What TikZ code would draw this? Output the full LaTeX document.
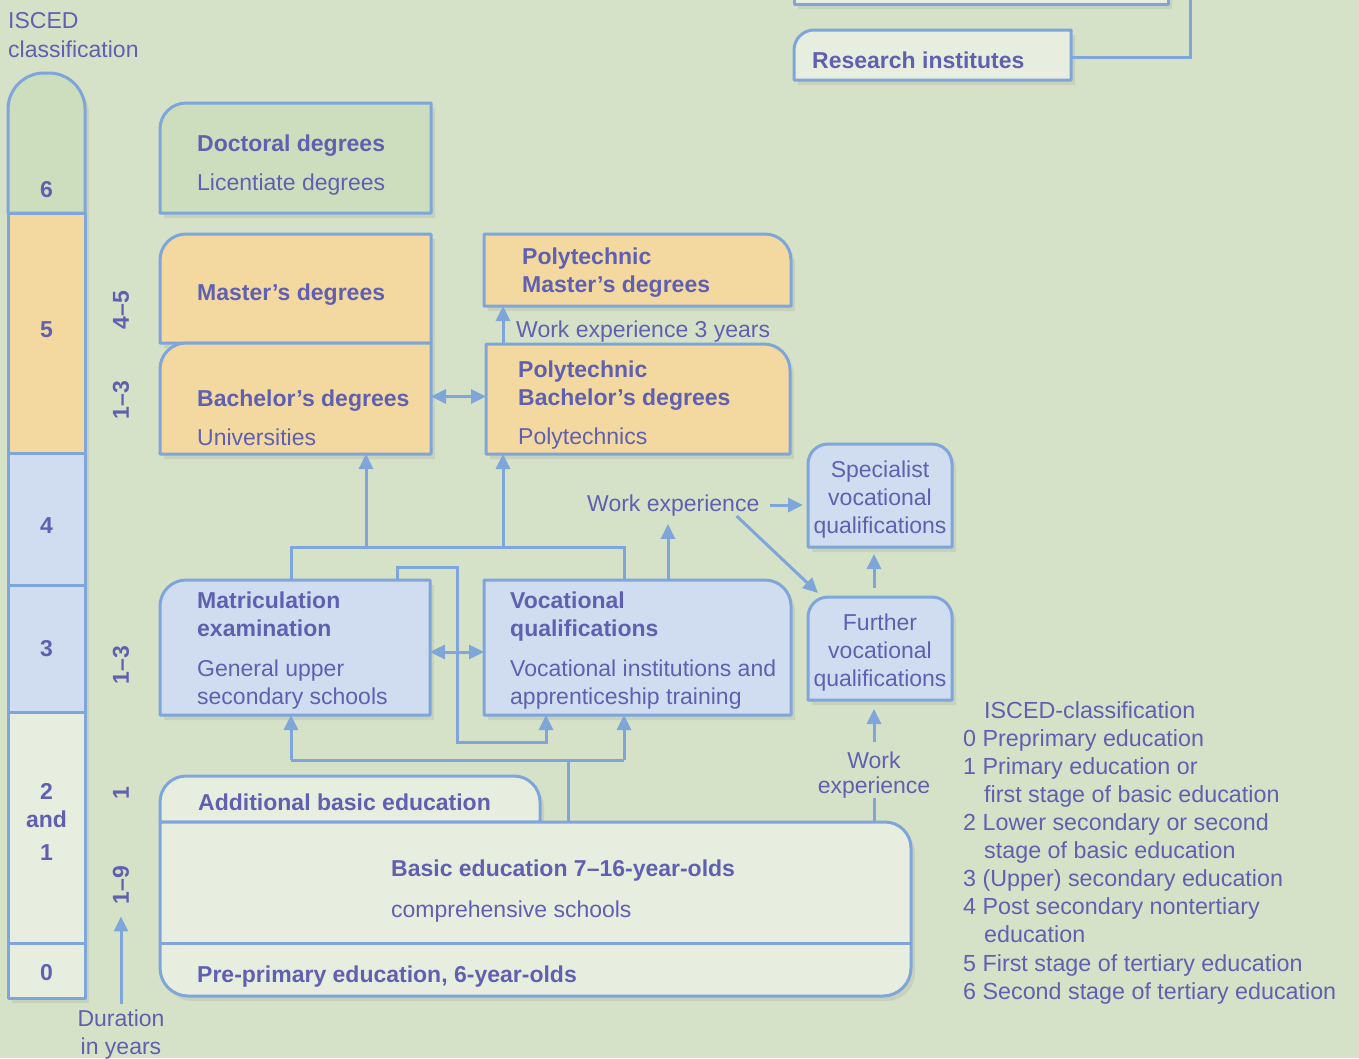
\documentclass[tikz,border=0pt]{standalone}
\usepackage{fontspec}
\setmainfont{Liberation Sans}
\usetikzlibrary{arrows.meta,shadows}
\definecolor{bgc}{RGB}{213,226,200}
\definecolor{gfill}{RGB}{204,222,190}
\definecolor{ofill}{RGB}{243,216,160}
\definecolor{bfill}{RGB}{208,221,240}
\definecolor{lfill}{RGB}{231,238,224}
\definecolor{lc}{RGB}{127,166,219}
\definecolor{txc}{RGB}{96,96,176}
\newcommand\mkarea[5]{\node[area,minimum width={(#4-#2)*1pt},minimum height={(#5-#3)*1pt}] (#1) at ({(#2+#4)/2},{(#3+#5)/2}) {};}
\newcommand\edbox[6]{%
 \draw[bx,fill=#2]
 ([yshift=-#3]#1.north west) .. controls ([yshift=-0.45*#3]#1.north west) and ([xshift=0.45*#3]#1.north west) .. ([xshift=#3]#1.north west)
 -- ([xshift=-#4]#1.north east) .. controls ([xshift=-0.45*#4]#1.north east) and ([yshift=-0.45*#4]#1.north east) .. ([yshift=-#4]#1.north east)
 -- ([yshift=#5]#1.south east) .. controls ([yshift=0.45*#5]#1.south east) and ([xshift=-0.45*#5]#1.south east) .. ([xshift=-#5]#1.south east)
 -- ([xshift=#6]#1.south west) .. controls ([xshift=0.45*#6]#1.south west) and ([yshift=0.45*#6]#1.south west) .. ([yshift=#6]#1.south west)
 -- cycle;}
\begin{document}
\begin{tikzpicture}[x=1pt,y=-1pt,
 area/.style={rectangle,inner sep=0pt,outer sep=0pt,draw=none},
 bx/.style={draw=lc,line width=3pt,line join=round,drop shadow={shadow xshift=4pt,shadow yshift=-5pt,opacity=0.16}},
 ln/.style={draw=lc,line width=3pt},
 arr/.style={ln,-{Triangle[length=15pt,width=14pt]}},
 dbl/.style={ln,{Triangle[length=15pt,width=14pt]}-{Triangle[length=15pt,width=14pt]}},
 tx/.style={text=txc,inner sep=0pt,anchor=base west,font=\fontsize{23}{27}\selectfont},
 tb/.style={tx,font=\fontsize{23}{27}\selectfont\bfseries},
 txm/.style={tx,anchor=base},
 tbm/.style={tb,anchor=base},
 tlg/.style={tx,font=\fontsize{23.3}{27}\selectfont},
 tr/.style={text=txc,inner sep=0pt,rotate=90,font=\fontsize{23}{27}\selectfont\bfseries}
]
\useasboundingbox (0,0) rectangle (1359,1058);
\fill[bgc] (0,0) rectangle (1359,1058);

% ---- left column
\mkarea{c6}{8}{73}{85}{213}
\mkarea{c5}{8}{213}{85}{453}
\mkarea{c4}{8}{453}{85}{585}
\mkarea{c3}{8}{585}{85}{712}
\mkarea{c21}{8}{712}{85}{943}
\mkarea{c0}{8}{943}{85}{998}
\edbox{c6}{gfill}{36pt}{36pt}{0pt}{0pt}
\edbox{c5}{ofill}{0pt}{0pt}{0pt}{0pt}
\edbox{c4}{bfill}{0pt}{0pt}{0pt}{0pt}
\edbox{c3}{bfill}{0pt}{0pt}{0pt}{0pt}
\edbox{c21}{lfill}{0pt}{0pt}{0pt}{0pt}
\edbox{c0}{lfill}{0pt}{0pt}{0pt}{0pt}

% ---- boxes
\mkarea{top}{794}{(-40)}{1168}{4}
\mkarea{res}{794}{30}{1071}{80}
\mkarea{doc}{160}{103}{431}{213}
\mkarea{mas}{160}{234}{431}{343}
\mkarea{bac}{160}{343}{431}{454}
\mkarea{pmas}{484}{234}{791}{306}
\mkarea{pbac}{486}{344}{790}{454}
\mkarea{spec}{808}{444}{952}{547}
\mkarea{furt}{808}{597}{952}{700}
\mkarea{mat}{160}{580}{430}{715}
\mkarea{voc}{484}{580}{791}{715}
\mkarea{add}{160}{776}{540}{822}
\mkarea{basic}{160}{822}{911}{996}

\edbox{top}{lfill}{0pt}{0pt}{0pt}{0pt}
\edbox{res}{lfill}{20pt}{0pt}{0pt}{0pt}
\edbox{doc}{gfill}{26pt}{0pt}{0pt}{0pt}
\edbox{mas}{ofill}{26pt}{0pt}{0pt}{0pt}
\edbox{bac}{ofill}{26pt}{0pt}{0pt}{0pt}
\edbox{pmas}{ofill}{0pt}{26pt}{0pt}{0pt}
\edbox{pbac}{ofill}{0pt}{26pt}{0pt}{0pt}
\edbox{spec}{bfill}{20pt}{20pt}{0pt}{0pt}
\edbox{furt}{bfill}{20pt}{20pt}{0pt}{0pt}
\edbox{mat}{bfill}{26pt}{0pt}{0pt}{0pt}
\edbox{voc}{bfill}{0pt}{26pt}{0pt}{0pt}
\edbox{add}{lfill}{26pt}{26pt}{0pt}{0pt}
\edbox{basic}{lfill}{0pt}{26pt}{28pt}{28pt}
\draw[ln] ([yshift=53pt]basic.south west) -- ([yshift=53pt]basic.south east);

% ---- texts
\node[tx] (isc1) at (8,28) {ISCED};
\node[tx] (isc2) at (8,57) {classification};
\node[tbm] (n6) at (46.5,197) {6};
\node[tbm] (n5) at (46.5,337) {5};
\node[tbm] (n4) at (46.5,533) {4};
\node[tbm] (n3) at (46.5,656) {3};
\node[tbm] (n2) at (46.5,799) {2};
\node[tbm] (nand) at (46.5,827) {and};
\node[tbm] (n1) at (46.5,860) {1};
\node[tbm] (n0) at (46.5,980) {0};

\node[tr] (d45) at (121,310) {4–5};
\node[tr] (d13a) at (121,400) {1–3};
\node[tr] (d13b) at (121,665) {1–3};
\node[tr] (d1) at (121,793) {1};
\node[tr] (d19) at (121,885) {1–9};
\node[txm] (dur) at (121,1026) {Duration};
\node[txm] (dur2) at (121,1054) {in years};

\node[tb] (tres) at (812,68) {Research institutes};
\node[tb] (tdoc1) at (197,151) {Doctoral degrees};
\node[tx] (tdoc2) at (197,190) {Licentiate degrees};
\node[tb] (tmas) at (197,300) {Master’s degrees};
\node[tb] (tbac1) at (197,406) {Bachelor’s degrees};
\node[tx] (tbac2) at (197,445) {Universities};
\node[tb] (tpm1) at (522,264) {Polytechnic};
\node[tb] (tpm2) at (522,292) {Master’s degrees};
\node[tx] (twe3) at (516,337) {Work experience 3 years};
\node[tb] (tpb1) at (518,377) {Polytechnic};
\node[tb] (tpb2) at (518,405) {Bachelor’s degrees};
\node[tx] (tpb3) at (518,444) {Polytechnics};
\node[tx] (wexp) at (587,511) {Work experience};
\node[txm] (ts1) at (880,477) {Specialist};
\node[txm] (ts2) at (880,505) {vocational};
\node[txm] (ts3) at (880,533) {qualifications};
\node[txm] (tf1) at (880,630) {Further};
\node[txm] (tf2) at (880,658) {vocational};
\node[txm] (tf3) at (880,686) {qualifications};
\node[tb] (tm1) at (197,608) {Matriculation};
\node[tb] (tm2) at (197,636) {examination};
\node[tx] (tm3) at (197,676) {General upper};
\node[tx] (tm4) at (197,704) {secondary schools};
\node[tb] (tv1) at (510,608) {Vocational};
\node[tb] (tv2) at (510,636) {qualifications};
\node[tx] (tv3) at (510,676) {Vocational institutions and};
\node[tx] (tv4) at (510,704) {apprenticeship training};
\node[txm] (wk1) at (874,768) {Work};
\node[txm] (wk2) at (874,793) {experience};
\node[tb] (tadd) at (198,810) {Additional basic education};
\node[tb] (tbas1) at (391,876) {Basic education 7–16-year-olds};
\node[tx] (tbas2) at (391,917) {comprehensive schools};
\node[tb] (tpre) at (197,982) {Pre-primary education, 6-year-olds};

\node[tlg] (lg0) at (984,718) {ISCED-classification};
\node[tlg] (lg1) at (963,746) {0 Preprimary education};
\node[tlg] (lg2) at (963,774) {1 Primary education or};
\node[tlg] (lg3) at (984,802) {first stage of basic education};
\node[tlg] (lg4) at (963,830) {2 Lower secondary or second};
\node[tlg] (lg5) at (984,858) {stage of basic education};
\node[tlg] (lg6) at (963,886) {3 (Upper) secondary education};
\node[tlg] (lg7) at (963,914) {4 Post secondary nontertiary};
\node[tlg] (lg8) at (984,942) {education};
\node[tlg] (lg9) at (963,971) {5 First stage of tertiary education};
\node[tlg] (lg10) at (963,999) {6 Second stage of tertiary education};

% ---- connectors
\coordinate (r1) at (1190,57);
\draw[ln] ([yshift=-2pt]res.east) -- (r1) -- (r1 |- top.north);

\draw[arr] ([yshift=5pt]dur.north) -- ([yshift=-12pt]d19.west);

\draw[dbl] ([yshift=2pt]bac.east) -- ([yshift=2pt]bac.east -| pbac.west);
\draw[dbl] ([yshift=-4.5pt]mat.east) -- ([yshift=-4.5pt]mat.east -| voc.west);

\coordinate (x503) at (503,0);
\draw[arr] (x503 |- pbac.north) -- (x503 |- pmas.south);

\coordinate (j1) at (291,547);
\coordinate (j2) at (624,547);
\coordinate (a1) at (366,547);
\coordinate (a2) at (503,547);
\draw[ln] (mat.north -| j1) -- (j1) -- (j2) -- (voc.north -| j2);
\draw[arr] (a1) -- (a1 |- bac.south);
\draw[arr] (a2) -- (a2 |- pbac.south);

\coordinate (w668) at (668,0);
\draw[arr] (voc.north -| w668) -- ([yshift=-8pt]wexp.south -| w668);
\draw[arr] ([xshift=10pt]wexp.east) -- ([xshift=-5pt]wexp.east -| spec.west);
\draw[arr] ([xshift=-23pt]wexp.south east) -- ([xshift=10pt,yshift=4pt]furt.north west);
\coordinate (x874) at (874,0);
\draw[arr] ([yshift=9pt]furt.north -| x874) -- ([yshift=-7pt]spec.south -| x874);
\draw[ln] (wk2.south) -- (wk2.south |- basic.north);
\draw[arr] ([yshift=9pt]wk1.north) -- ([yshift=-9pt]furt.south -| wk1.north);

\coordinate (p1) at (397,567);
\coordinate (p2) at (457,567);
\coordinate (p3) at (457,742);
\coordinate (p4) at (546,742);
\draw[arr] (mat.north -| p1) -- (p1) -- (p2) -- (p3) -- (p4) -- (p4 |- voc.south);

\coordinate (q) at (568,760);
\coordinate (q1) at (291,760);
\coordinate (q2) at (624,760);
\draw[ln] (basic.north -| q) -- (q);
\draw[ln] (q1) -- (q2);
\draw[arr] (q1) -- (q1 |- mat.south);
\draw[arr] (q2) -- (q2 |- voc.south);
\end{tikzpicture}
\end{document}
